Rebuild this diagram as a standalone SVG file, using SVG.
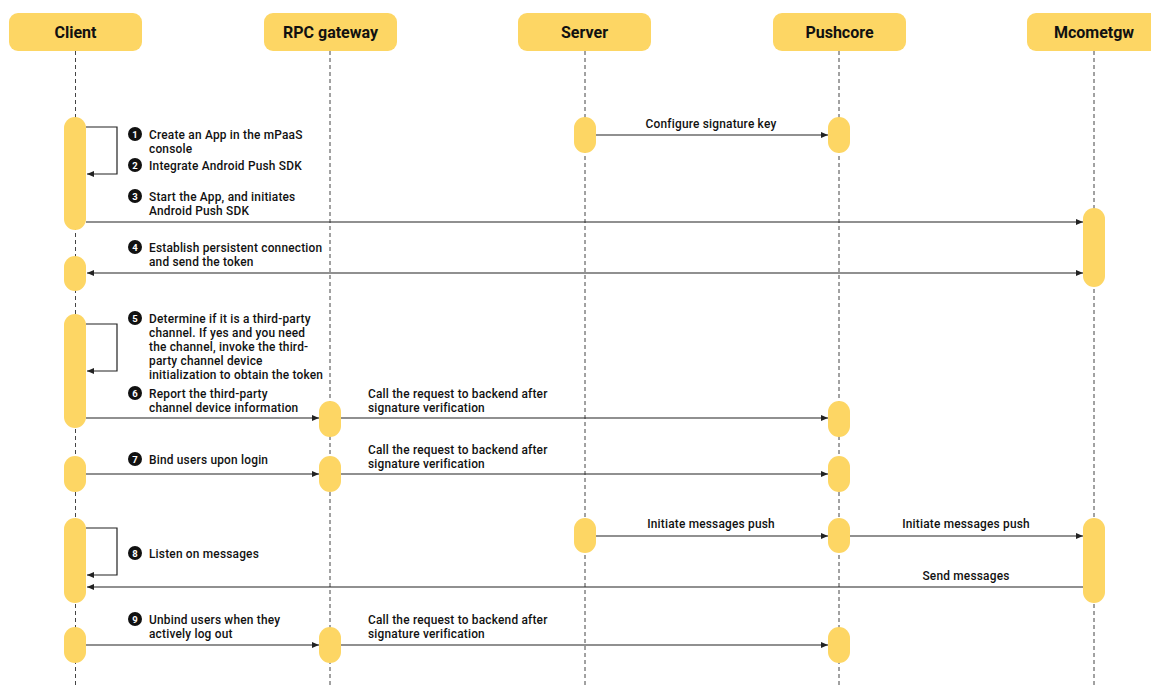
<svg xmlns="http://www.w3.org/2000/svg" width="1151" height="688" viewBox="0 0 1151 688">
<defs>
<style>
.hd{fill:#FDD664}
.hdt{font-family:Roboto,"Open Sans",sans-serif;font-size:16px;font-weight:700;fill:#111;text-anchor:middle}
.life{stroke:#444;stroke-width:1;stroke-dasharray:4 3;fill:none}
.bar{fill:#FDD664}
.ln{stroke:#222;stroke-width:1.2;fill:none}
.t{font-family:Roboto,"Open Sans",sans-serif;font-size:11.9px;font-weight:500;letter-spacing:0.2px;fill:#111}
.tc{font-family:Roboto,"Open Sans",sans-serif;font-size:11.9px;font-weight:500;letter-spacing:0.2px;fill:#111;text-anchor:middle}
.bc{fill:#111}
.bn{font-family:Roboto,"Open Sans",sans-serif;font-size:9.5px;font-weight:700;fill:#fff;text-anchor:middle}
</style>
<marker id="ah" markerWidth="8" markerHeight="8" refX="7" refY="4" orient="auto-start-reverse" markerUnits="userSpaceOnUse">
<path d="M0,1 L7,4 L0,7 Z" fill="#222"/>
</marker>
</defs>
<rect width="1151" height="688" fill="#fff"/>

<g id="lifelines">
<line class="life" x1="75.5" y1="51" x2="75.5" y2="688"/>
<line class="life" x1="330" y1="51" x2="330" y2="688"/>
<line class="life" x1="585" y1="51" x2="585" y2="688"/>
<line class="life" x1="839" y1="51" x2="839" y2="688"/>
<line class="life" x1="1094" y1="51" x2="1094" y2="688"/>
</g>

<g id="client"><rect class="hd" x="9" y="13" width="133" height="38" rx="9"/><text class="hdt" x="75.5" y="37.5">Client</text></g>
<g id="rpc-gateway"><rect class="hd" x="264" y="13" width="133" height="38" rx="9"/><text class="hdt" x="330.5" y="37.5">RPC gateway</text></g>
<g id="server"><rect class="hd" x="518" y="13" width="133" height="38" rx="9"/><text class="hdt" x="584.5" y="37.5">Server</text></g>
<g id="pushcore"><rect class="hd" x="773" y="13" width="133" height="38" rx="9"/><text class="hdt" x="839.5" y="37.5">Pushcore</text></g>
<g id="mcometgw"><rect class="hd" x="1027" y="13" width="140" height="38" rx="9"/><text class="hdt" x="1094" y="37.5">Mcometgw</text></g>

<g id="activations">
<rect class="bar" x="64" y="117" width="22" height="113" rx="11"/>
<rect class="bar" x="64" y="256" width="22" height="35" rx="11"/>
<rect class="bar" x="64" y="314" width="22" height="114" rx="11"/>
<rect class="bar" x="64" y="456" width="22" height="36" rx="11"/>
<rect class="bar" x="64" y="518" width="22" height="85" rx="11"/>
<rect class="bar" x="64" y="627" width="22" height="36" rx="11"/>
<rect class="bar" x="319" y="401" width="22" height="36" rx="11"/>
<rect class="bar" x="319" y="456" width="22" height="36" rx="11"/>
<rect class="bar" x="319" y="627" width="22" height="36" rx="11"/>
<rect class="bar" x="574" y="117" width="22" height="36" rx="11"/>
<rect class="bar" x="574" y="518" width="22" height="35" rx="11"/>
<rect class="bar" x="828" y="117" width="22" height="36" rx="11"/>
<rect class="bar" x="828" y="401" width="22" height="36" rx="11"/>
<rect class="bar" x="828" y="456" width="22" height="36" rx="11"/>
<rect class="bar" x="828" y="518" width="22" height="35" rx="11"/>
<rect class="bar" x="828" y="627" width="22" height="36" rx="11"/>
<rect class="bar" x="1083" y="208" width="22" height="79" rx="11"/>
<rect class="bar" x="1083" y="518" width="22" height="85" rx="11"/>
</g>

<g id="connectors">
<path class="ln" d="M86,127 H117 V174 H87" marker-end="url(#ah)"/>
<line class="ln" x1="86" y1="222" x2="1083" y2="222" marker-end="url(#ah)"/>
<line class="ln" x1="87" y1="273" x2="1083" y2="273" marker-start="url(#ah)" marker-end="url(#ah)"/>
<path class="ln" d="M86,324 H117 V371 H87" marker-end="url(#ah)"/>
<line class="ln" x1="86" y1="418" x2="319" y2="418" marker-end="url(#ah)"/>
<line class="ln" x1="341" y1="418" x2="828" y2="418" marker-end="url(#ah)"/>
<line class="ln" x1="86" y1="474" x2="319" y2="474" marker-end="url(#ah)"/>
<line class="ln" x1="341" y1="474" x2="828" y2="474" marker-end="url(#ah)"/>
<line class="ln" x1="596" y1="135" x2="828" y2="135" marker-end="url(#ah)"/>
<path class="ln" d="M86,528 H117 V575 H87" marker-end="url(#ah)"/>
<line class="ln" x1="596" y1="536" x2="828" y2="536" marker-end="url(#ah)"/>
<line class="ln" x1="850" y1="536" x2="1083" y2="536" marker-end="url(#ah)"/>
<line class="ln" x1="1083" y1="587" x2="87" y2="587" marker-end="url(#ah)"/>
<line class="ln" x1="86" y1="645" x2="319" y2="645" marker-end="url(#ah)"/>
<line class="ln" x1="341" y1="645" x2="828" y2="645" marker-end="url(#ah)"/>
</g>

<g id="labels">
<circle class="bc" cx="135" cy="134" r="7"/><text class="bn" x="135" y="137.5">1</text>
<text class="t" x="149" y="138.5">Create an App in the mPaaS</text>
<text class="t" x="149" y="152.5">console</text>
<circle class="bc" cx="135" cy="165" r="7"/><text class="bn" x="135" y="168.5">2</text>
<text class="t" x="149" y="169.5">Integrate Android Push SDK</text>
<circle class="bc" cx="135" cy="196" r="7"/><text class="bn" x="135" y="199.5">3</text>
<text class="t" x="149" y="200.5">Start the App, and initiates</text>
<text class="t" x="149" y="214.5">Android Push SDK</text>
<circle class="bc" cx="135" cy="247" r="7"/><text class="bn" x="135" y="250.5">4</text>
<text class="t" x="149" y="251.5">Establish persistent connection</text>
<text class="t" x="149" y="265.5">and send the token</text>
<circle class="bc" cx="135" cy="318" r="7"/><text class="bn" x="135" y="321.5">5</text>
<text class="t" x="149" y="322.5">Determine if it is a third-party</text>
<text class="t" x="149" y="336.5">channel. If yes and you need</text>
<text class="t" x="149" y="350.5">the channel, invoke the third-</text>
<text class="t" x="149" y="364.5">party channel device</text>
<text class="t" x="149" y="378.5">initialization to obtain the token</text>
<circle class="bc" cx="135" cy="393" r="7"/><text class="bn" x="135" y="396.5">6</text>
<text class="t" x="149" y="397.5">Report the third-party</text>
<text class="t" x="149" y="411.5">channel device information</text>
<circle class="bc" cx="135" cy="459" r="7"/><text class="bn" x="135" y="462.5">7</text>
<text class="t" x="149" y="463.5">Bind users upon login</text>
<circle class="bc" cx="135" cy="553" r="7"/><text class="bn" x="135" y="556.5">8</text>
<text class="t" x="149" y="557.5">Listen on messages</text>
<circle class="bc" cx="135" cy="619" r="7"/><text class="bn" x="135" y="622.5">9</text>
<text class="t" x="149" y="623.5">Unbind users when they</text>
<text class="t" x="149" y="637.5">actively log out</text>
<text class="t" x="368" y="397.5">Call the request to backend after</text>
<text class="t" x="368" y="411.5">signature verification</text>
<text class="t" x="368" y="453.5">Call the request to backend after</text>
<text class="t" x="368" y="467.5">signature verification</text>
<text class="t" x="368" y="623.5">Call the request to backend after</text>
<text class="t" x="368" y="637.5">signature verification</text>
<text class="tc" x="711" y="127.5">Configure signature key</text>
<text class="tc" x="711" y="527.5">Initiate messages push</text>
<text class="tc" x="966" y="527.5">Initiate messages push</text>
<text class="tc" x="966" y="579.5">Send messages</text>
</g>
</svg>
